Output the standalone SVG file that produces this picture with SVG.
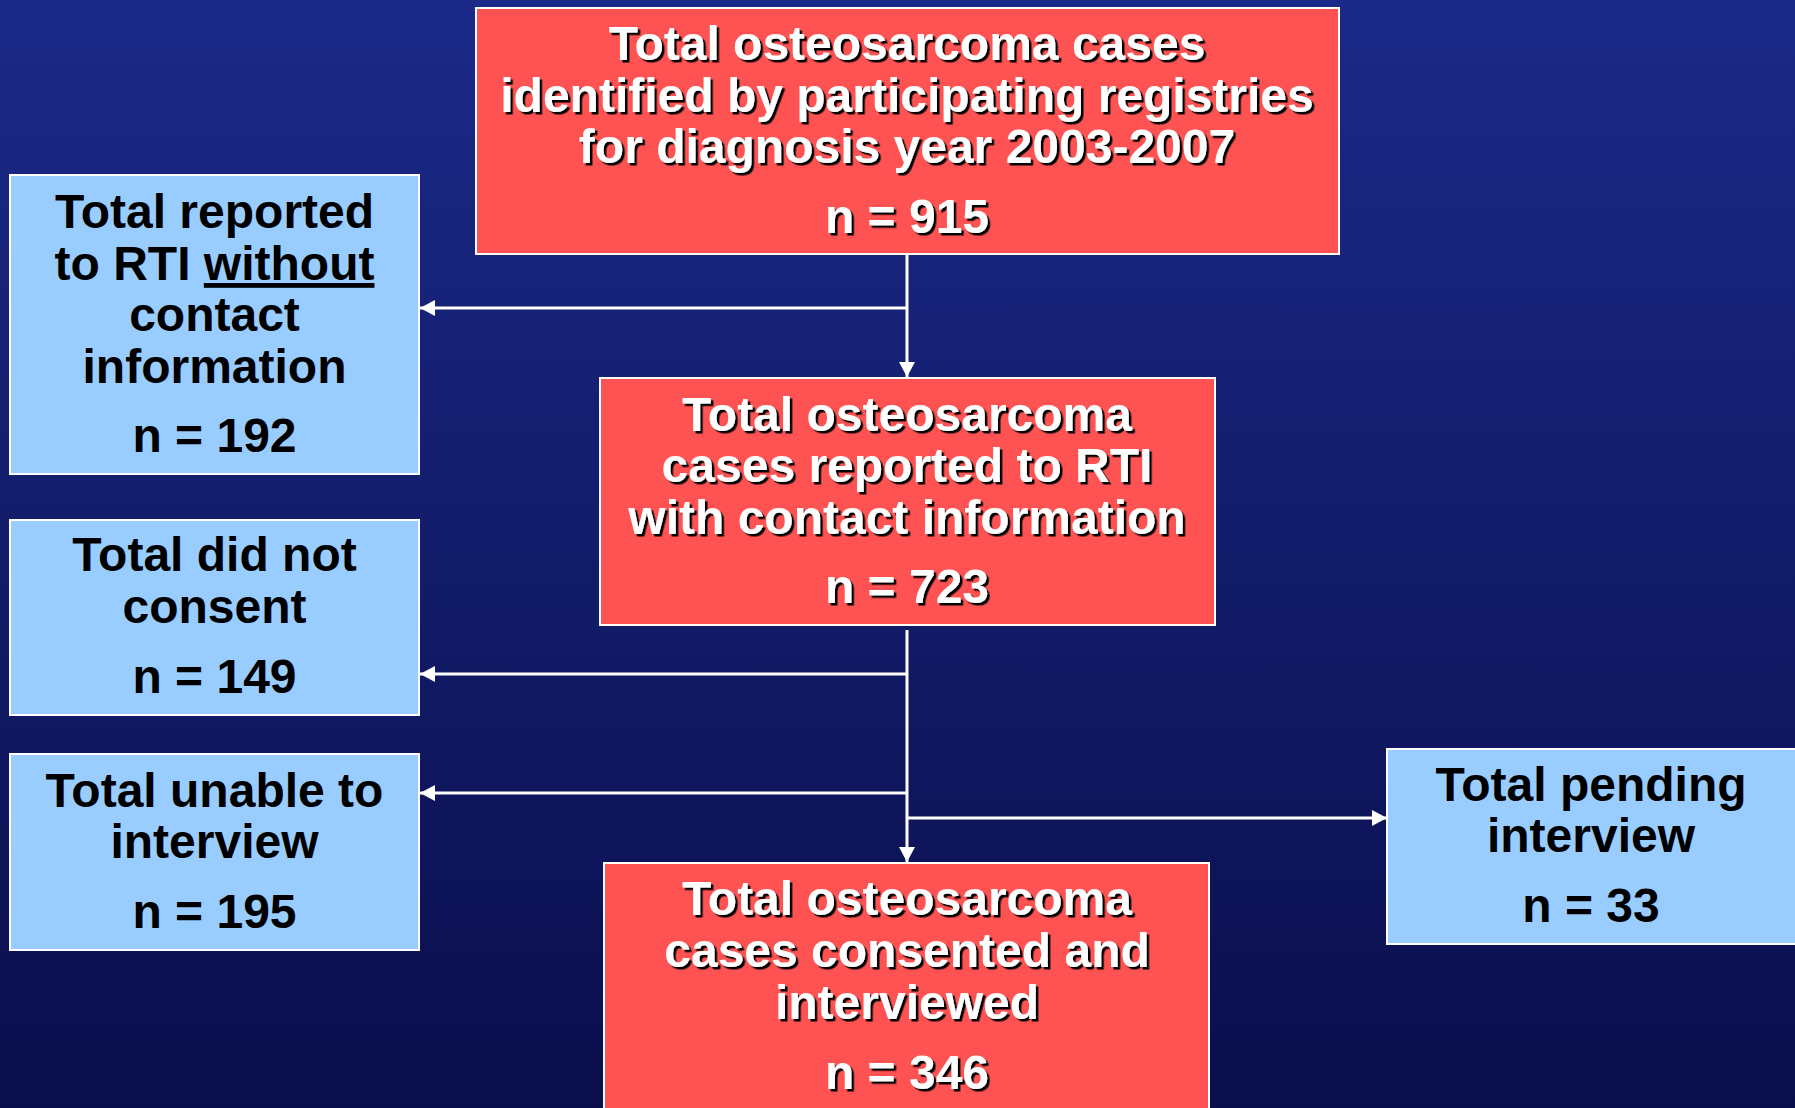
<svg xmlns="http://www.w3.org/2000/svg" width="1795" height="1108" viewBox="0 0 1795 1108">
  <defs>
    <linearGradient id="bg" x1="0" y1="0" x2="0" y2="1">
      <stop offset="0" stop-color="#1B2A88"/>
      <stop offset="1" stop-color="#0A0E4C"/>
    </linearGradient>
    <filter id="shadow" x="-5%" y="-20%" width="110%" height="140%">
      <feDropShadow dx="2.5" dy="2.5" stdDeviation="0" flood-color="#000000" flood-opacity="1"/>
    </filter>
    <marker id="arrow" viewBox="0 0 15 16" refX="15" refY="8" markerWidth="15" markerHeight="16" markerUnits="userSpaceOnUse" orient="auto">
      <path d="M0,0 L15,8 L0,16 Z" fill="#FFFFFF"/>
    </marker>
    <style>
      .red { fill: #FF5252; stroke: #FFFFFF; stroke-width: 2; }
      .blue { fill: #99CCFF; stroke: #FFFFFF; stroke-width: 2; }
      .t { font-family: "Liberation Sans", Arial, sans-serif; font-weight: bold; font-size: 48px; text-anchor: middle; }
      .w { fill: #FFFFFF; filter: url(#shadow); }
      .k { fill: #000000; }
      .conn { stroke: #FFFFFF; stroke-width: 3; fill: none; }
    </style>
  </defs>

  <rect x="0" y="0" width="1795" height="1108" fill="url(#bg)"/>

  <g id="connectors">
    <line class="conn" x1="907" y1="254" x2="907" y2="377" marker-end="url(#arrow)"/>
    <line class="conn" x1="907" y1="308" x2="420" y2="308" marker-end="url(#arrow)"/>
    <line class="conn" x1="907" y1="630" x2="907" y2="862" marker-end="url(#arrow)"/>
    <line class="conn" x1="907" y1="674" x2="420" y2="674" marker-end="url(#arrow)"/>
    <line class="conn" x1="907" y1="793" x2="420" y2="793" marker-end="url(#arrow)"/>
    <line class="conn" x1="907" y1="818" x2="1387" y2="818" marker-end="url(#arrow)"/>
  </g>

  <g id="node-total-identified">
    <rect class="red" x="476" y="8" width="863" height="246"/>
    <text class="t w" x="907" y="60">Total osteosarcoma cases</text>
    <text class="t w" x="907" y="112">identified by participating registries</text>
    <text class="t w" x="907" y="163">for diagnosis year 2003-2007</text>
    <text class="t w" x="907" y="233">n = 915</text>
  </g>

  <g id="node-with-contact">
    <rect class="red" x="600" y="378" width="615" height="247"/>
    <text class="t w" x="907" y="431">Total osteosarcoma</text>
    <text class="t w" x="907" y="482">cases reported to RTI</text>
    <text class="t w" x="907" y="534">with contact information</text>
    <text class="t w" x="907" y="603">n = 723</text>
  </g>

  <g id="node-interviewed">
    <rect class="red" x="604" y="863" width="605" height="260"/>
    <text class="t w" x="907" y="915">Total osteosarcoma</text>
    <text class="t w" x="907" y="967">cases consented and</text>
    <text class="t w" x="907" y="1019">interviewed</text>
    <text class="t w" x="907" y="1089">n = 346</text>
  </g>

  <g id="node-without-contact">
    <rect class="blue" x="10" y="175" width="409" height="299"/>
    <text class="t k" x="214.5" y="228">Total reported</text>
    <text class="t k" x="214.5" y="280">to RTI <tspan text-decoration="underline">without</tspan></text>
    <text class="t k" x="214.5" y="331">contact</text>
    <text class="t k" x="214.5" y="383">information</text>
    <text class="t k" x="214.5" y="452">n = 192</text>
  </g>

  <g id="node-not-consent">
    <rect class="blue" x="10" y="520" width="409" height="195"/>
    <text class="t k" x="214.5" y="571">Total did not</text>
    <text class="t k" x="214.5" y="623">consent</text>
    <text class="t k" x="214.5" y="693">n = 149</text>
  </g>

  <g id="node-unable">
    <rect class="blue" x="10" y="754" width="409" height="196"/>
    <text class="t k" x="214.5" y="807">Total unable to</text>
    <text class="t k" x="214.5" y="858">interview</text>
    <text class="t k" x="214.5" y="928">n = 195</text>
  </g>

  <g id="node-pending">
    <rect class="blue" x="1387" y="749" width="412" height="195"/>
    <text class="t k" x="1591" y="801">Total pending</text>
    <text class="t k" x="1591" y="852">interview</text>
    <text class="t k" x="1591" y="922">n = 33</text>
  </g>
</svg>
